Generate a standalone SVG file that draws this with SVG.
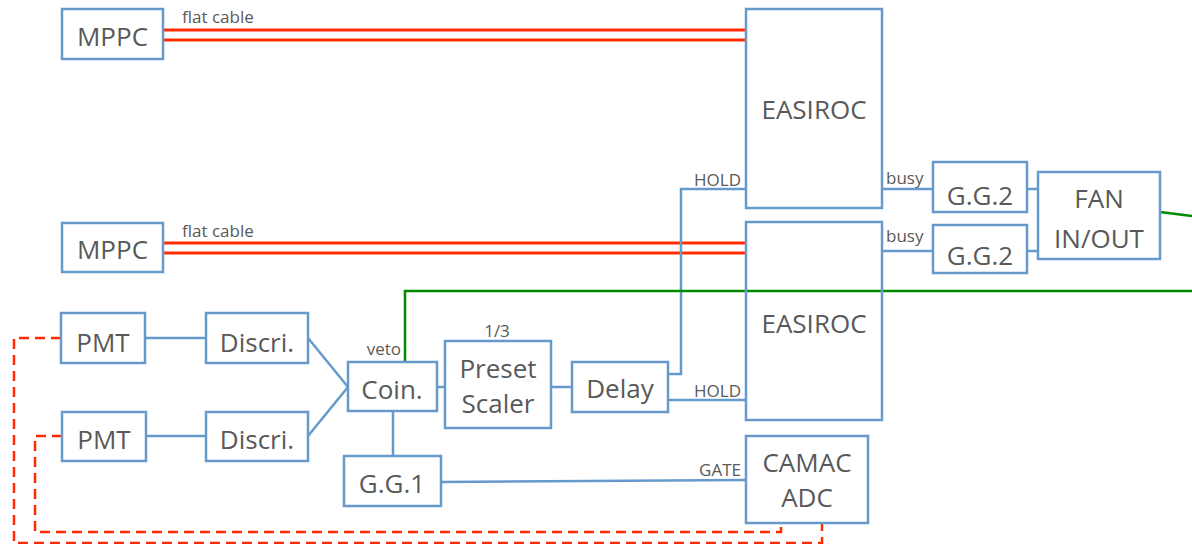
<svg xmlns="http://www.w3.org/2000/svg" width="1192" height="544" viewBox="0 0 1192 544">
<style>
.box{fill:none;stroke:#6699cc;stroke-width:2.5}
.t{font-family:"Open Sans","Liberation Sans",sans-serif;font-size:26px;fill:#595959;text-anchor:middle}
.s{font-family:"Open Sans","Liberation Sans",sans-serif;font-size:17px;fill:#595959}
.b{fill:none;stroke:#6699cc;stroke-width:2.5}
.r{fill:none;stroke:#ff2a00;stroke-width:3}
.rd{fill:none;stroke:#ff2a00;stroke-width:2.5;stroke-dasharray:10 6}
.g{fill:none;stroke:#008a00;stroke-width:2.5}
</style>
<g id="connectors">
<path class="r" d="M163 30H746M163 40H746M163 243H746M163 253H746"/>
<path class="b" d="M146 338H206M146 436H206M308 338L348 387M308 436L348 387M393 411V456M437 387H445M551 387H572M668 374H681V189H746M668 400H746M441 482L746 480M882 189H933M882 251H933M1027 189H1038M1027 251H1038"/>
<path class="g" d="M405 362V291H1192M1160 212L1192 216"/>
<path class="rd" d="M61 338H14V543H822V523M62 436H35V532H781V523"/>
</g>
<g id="mppc1"><rect class="box" x="62" y="9" width="101" height="50"/><text class="t" x="112.5" y="46">MPPC</text></g>
<g id="mppc2"><rect class="box" x="62" y="223" width="101" height="49"/><text class="t" x="112.5" y="259">MPPC</text></g>
<g id="easiroc1"><rect class="box" x="746" y="9" width="136" height="199"/><text class="t" x="814" y="119">EASIROC</text></g>
<g id="easiroc2"><rect class="box" x="746" y="222" width="136" height="198"/><text class="t" x="814" y="333">EASIROC</text></g>
<g id="gg2a"><rect class="box" x="933" y="162" width="94" height="50"/><text class="t" x="980" y="205">G.G.2</text></g>
<g id="gg2b"><rect class="box" x="933" y="225" width="94" height="48"/><text class="t" x="980" y="265">G.G.2</text></g>
<g id="fan"><rect class="box" x="1038" y="172" width="122" height="87"/><text class="t" x="1099" y="208">FAN</text><text class="t" x="1099" y="248">IN/OUT</text></g>
<g id="pmt1"><rect class="box" x="61" y="313" width="84" height="50"/><text class="t" x="103" y="352">PMT</text></g>
<g id="pmt2"><rect class="box" x="62" y="412" width="84" height="49"/><text class="t" x="104" y="449">PMT</text></g>
<g id="discri1"><rect class="box" x="206" y="313" width="102" height="50"/><text class="t" x="257" y="352">Discri.</text></g>
<g id="discri2"><rect class="box" x="206" y="412" width="102" height="49"/><text class="t" x="257" y="449">Discri.</text></g>
<g id="coin"><rect class="box" x="348" y="362" width="89" height="49"/><text class="t" x="392" y="399">Coin.</text></g>
<g id="gg1"><rect class="box" x="344" y="456" width="97" height="50"/><text class="t" x="392" y="493">G.G.1</text></g>
<g id="preset"><rect class="box" x="445" y="341" width="106" height="87"/><text class="t" x="498" y="378">Preset</text><text class="t" x="498" y="413">Scaler</text></g>
<g id="delay"><rect class="box" x="572" y="362" width="96" height="50"/><text class="t" x="620" y="398">Delay</text></g>
<g id="camac"><rect class="box" x="746" y="436" width="122" height="87"/><text class="t" x="807" y="472">CAMAC</text><text class="t" x="807" y="507">ADC</text></g>
<g id="labels">
<text class="s" x="182" y="23">flat cable</text>
<text class="s" x="182" y="237">flat cable</text>
<text class="s" x="886" y="184">busy</text>
<text class="s" x="886" y="242">busy</text>
<text class="s" x="741" y="186" text-anchor="end">HOLD</text>
<text class="s" x="741" y="397" text-anchor="end">HOLD</text>
<text class="s" x="741" y="476" text-anchor="end">GATE</text>
<text class="s" x="401" y="355" text-anchor="end">veto</text>
<text class="s" x="497" y="337" text-anchor="middle">1/3</text>
</g>
</svg>
